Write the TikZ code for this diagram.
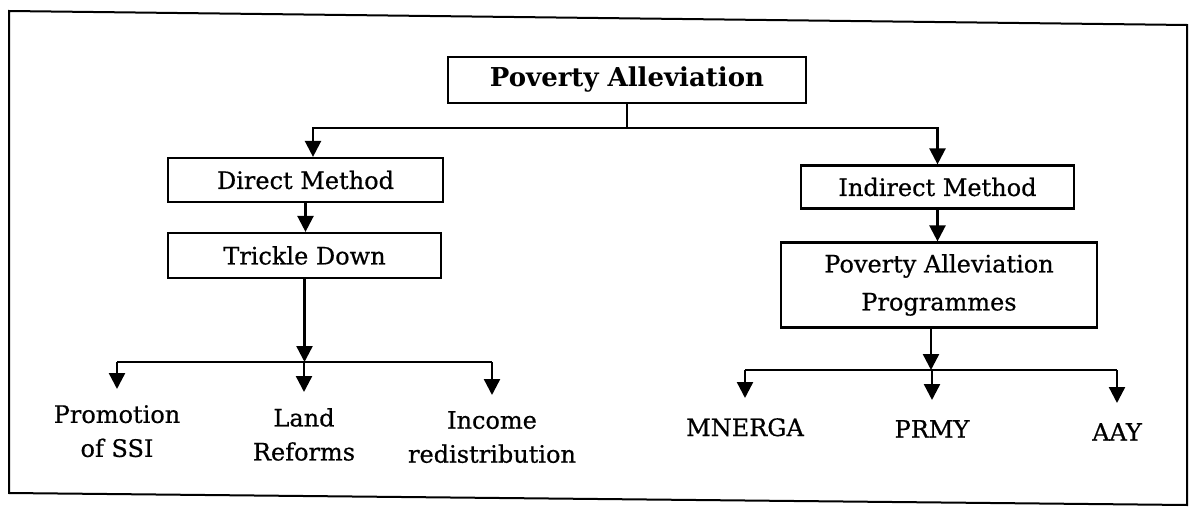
\documentclass[tikz,border=0pt]{standalone}
\usepackage{fontspec}
\setmainfont{DejaVu Serif}
\newfontfamily\medf{DejaVu Serif}[FakeBold=0.6]
\usetikzlibrary{arrows.meta}
\begin{document}
\begin{tikzpicture}[x=1pt,y=-1pt,
  box/.style={draw, line width=2.2pt, rectangle, inner sep=0pt, align=center,
    font=\medf\fontsize{24}{38}\selectfont},
  lbl/.style={inner sep=0pt, align=center, anchor=north,
    font=\medf\fontsize{24}{34}\selectfont},
  ln/.style={line width=2.4pt},
  arr/.style={line width=2.4pt, -{Triangle[length=16pt,width=16pt]}}]
\useasboundingbox (0,0) rectangle (1189,508);
% frame
\draw[line width=2pt] (9,11) -- (1187,25) -- (1187,505) -- (9,493) -- cycle;
% boxes
\node[box, minimum width=358pt, minimum height=46pt, font=\fontsize{26}{30}\selectfont\bfseries] (top) at (627,80) {Poverty Alleviation};
\node[box, minimum width=275pt, minimum height=44pt] (dm) at (305.5,180) {Direct Method};
\node[box, minimum width=273pt, minimum height=45pt] (td) at (304.5,255.5) {Trickle Down};
\node[box, minimum width=273pt, minimum height=43pt] (im) at (937.5,187) {Indirect Method};
\node[box, minimum width=316pt, minimum height=85pt] (pap) at (939,285) {Poverty Alleviation\\Programmes};
% labels
\node[lbl] (l1) at (117,405) {Promotion\\of SSI};
\node[lbl] (l2) at (304,408) {Land\\Reforms};
\node[lbl] (l3) at (492,411) {Income\\redistribution};
\node[lbl] (r1) at (745,418) {MNERGA};
\node[lbl] (r2) at (932,420) {PRMY};
\node[lbl] (r3) at (1117,423) {AAY};
% junctions
\coordinate (j1) at (625,128);
\coordinate (b2) at (304,362);
\coordinate (b3) at (931,370);
% top split
\draw[ln] (top.south) -- (top.south |- j1);
\draw[arr] (top.south |- j1) -| ([xshift=7.5pt]dm.north);
\draw[arr] (top.south |- j1) -| (im.north);
% left chain
\draw[arr] (dm.south) -- (dm.south |- td.north);
\draw[arr] (td.south) -- (td.south |- b2);
\draw[ln] (l1.north |- b2) -- (l3.north |- b2);
\foreach \n in {l1,l2,l3} \draw[arr] (\n.north |- b2) -- ([yshift=16pt]\n.north);
% right chain
\draw[arr] (im.south) -- (im.south |- pap.north);
\draw[arr] ([xshift=-8pt]pap.south) -- ([xshift=-8pt]pap.south |- b3);
\draw[ln] (r1.north |- b3) -- (r3.north |- b3);
\foreach \n in {r1,r2,r3} \draw[arr] (\n.north |- b3) -- ([yshift=20pt]\n.north);
\end{tikzpicture}
\end{document}
